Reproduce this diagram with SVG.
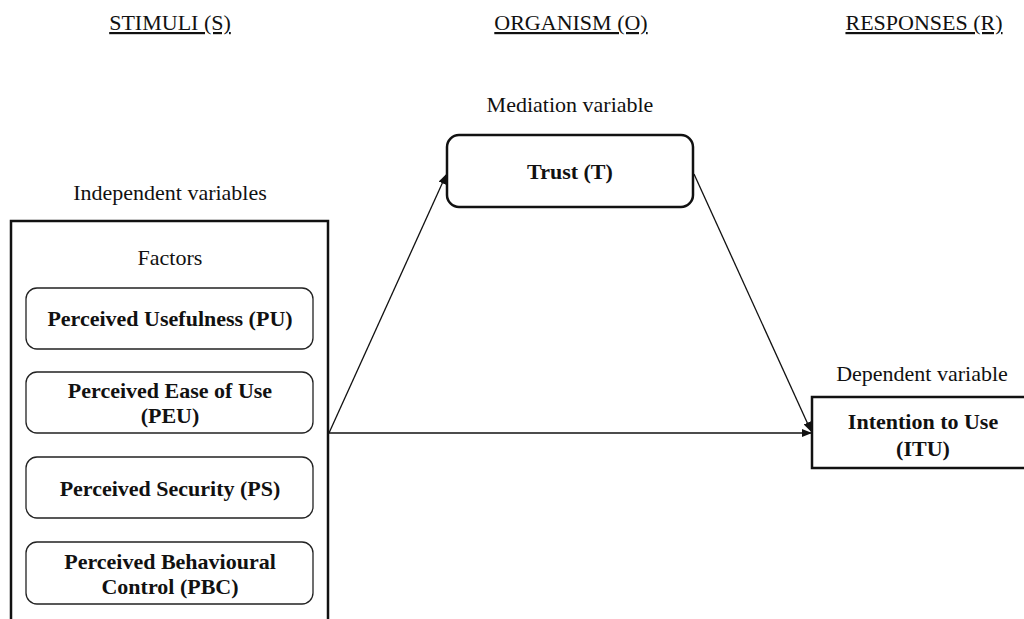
<svg xmlns="http://www.w3.org/2000/svg" width="1024" height="619" viewBox="0 0 1024 619">
<style>
.t{font-family:"Liberation Serif","Times New Roman",serif;fill:#111;text-anchor:middle;font-size:22px}
.h{text-decoration:underline}
.b{font-weight:bold}
.thick{fill:#fff;stroke:#111;stroke-width:2.5}
.thin{fill:#fff;stroke:#222;stroke-width:1.3}
.c{stroke:#111;stroke-width:1.3;fill:none}
</style>
<defs>
<marker id="ah" markerWidth="10" markerHeight="8" refX="9" refY="4" orient="auto" markerUnits="userSpaceOnUse">
<path d="M0,0 L10,4 L0,8 z" fill="#111"/>
</marker>
</defs>
<rect width="1024" height="619" fill="#fff"/>
<g id="headers">
<text class="t h" x="170" y="30">STIMULI (S)</text>
<text class="t h" x="571" y="30">ORGANISM (O)</text>
<text class="t h" x="924" y="30">RESPONSES (R)</text>
<text class="t" x="570" y="112">Mediation variable</text>
<text class="t" x="170" y="200">Independent variables</text>
<text class="t" x="922" y="381">Dependent variable</text>
</g>
<g id="connectors">
<line class="c" x1="329" y1="433" x2="446" y2="175" marker-end="url(#ah)"/>
<line class="c" x1="329" y1="433" x2="811" y2="433" marker-end="url(#ah)"/>
<line class="c" x1="694" y1="174" x2="811" y2="431" marker-end="url(#ah)"/>
</g>
<g id="stimuli">
<rect class="thick" x="11" y="221" width="317" height="410"/>
<text class="t" x="170" y="265">Factors</text>
</g>
<g id="pu">
<rect class="thin" x="26" y="288" width="287" height="61" rx="11"/>
<text class="t b" x="170" y="326">Perceived Usefulness (PU)</text>
</g>
<g id="peu">
<rect class="thin" x="26" y="372" width="287" height="61" rx="11"/>
<text class="t b" x="170" y="398">Perceived Ease of Use</text>
<text class="t b" x="170" y="423">(PEU)</text>
</g>
<g id="ps">
<rect class="thin" x="26" y="457" width="287" height="61" rx="11"/>
<text class="t b" x="170" y="496">Perceived Security (PS)</text>
</g>
<g id="pbc">
<rect class="thin" x="26" y="542" width="287" height="62" rx="11"/>
<text class="t b" x="170" y="569">Perceived Behavioural</text>
<text class="t b" x="170" y="594">Control (PBC)</text>
</g>
<g id="trust">
<rect class="thick" x="447" y="135" width="246" height="72" rx="12"/>
<text class="t b" x="570" y="179">Trust (T)</text>
</g>
<g id="itu">
<rect class="thick" x="812" y="397" width="230" height="71"/>
<text class="t b" x="923" y="429">Intention to Use</text>
<text class="t b" x="923" y="456">(ITU)</text>
</g>
</svg>
